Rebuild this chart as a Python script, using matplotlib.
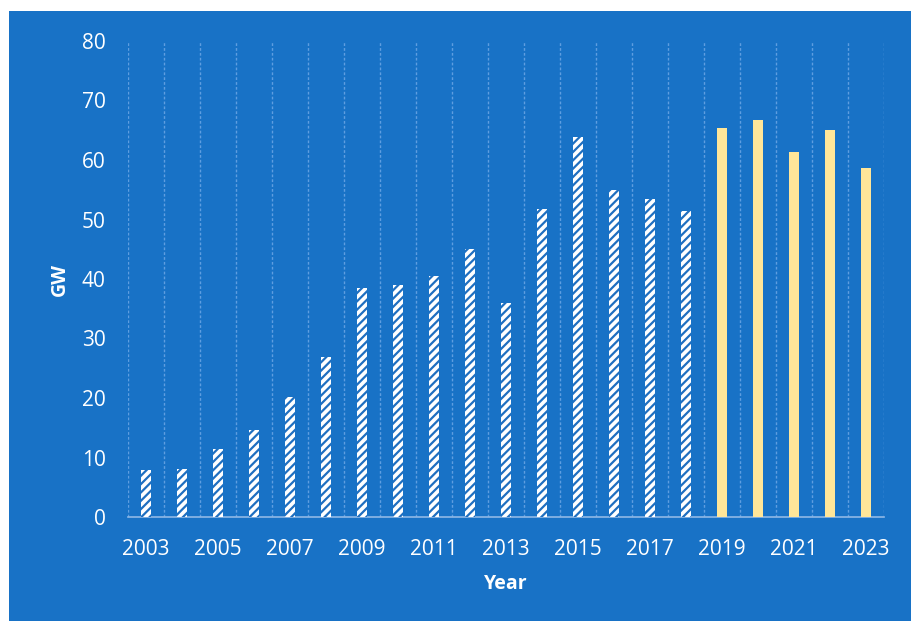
import matplotlib
matplotlib.use("Agg")
import matplotlib.pyplot as plt
from matplotlib.patches import Rectangle
import numpy as np

years = list(range(2003, 2024))
historical_years = list(range(2003, 2019))
historical_gw = [7.9, 8.1, 11.4, 14.6, 20.2, 26.9, 38.5, 39.0, 40.5, 45.0,
                 36.0, 51.8, 63.9, 55.0, 53.4, 51.4]
recent_years = list(range(2019, 2024))
recent_gw = [65.4, 66.7, 61.3, 65.0, 58.7]
tick_labels = [str(y) if (y - 2003) % 2 == 0 else "" for y in years]

BG = "#1872c6"
HATCH_BLUE = "#1f6fc0"
YELLOW = "#ffe699"
GRID = "#5f9ee0"
TEXT = "white"

plt.rcParams["font.family"] = ["Open Sans", "DejaVu Sans"]
plt.rcParams["hatch.linewidth"] = 1.6

fig = plt.figure(figsize=(9.11, 6.21), dpi=100, facecolor="white")
fig.patches.append(Rectangle((9 / 911, 0), 1 - 9 / 911, 1 - 11 / 621,
                             transform=fig.transFigure, facecolor=BG,
                             edgecolor="none", zorder=-10))

ax = fig.add_axes([128 / 911, (621 - 517) / 621, 756 / 911, 476 / 621])
ax.set_zorder(5)
ax.set_facecolor("none")

idx = {y: i for i, y in enumerate(years)}
hx = [idx[y] for y in historical_years]
rx = [idx[y] for y in recent_years]

ax.bar(hx, historical_gw, width=0.28, facecolor="white", edgecolor=HATCH_BLUE,
       hatch="////", linewidth=0, zorder=3)
ax.bar(rx, recent_gw, width=0.28, color=YELLOW, linewidth=0, zorder=3)

ax.set_xlim(-0.5, len(years) - 0.5)
ax.set_ylim(0, 80)
ax.set_yticks(np.arange(0, 81, 10))
ax.set_xticks(range(len(years)))
ax.set_xticklabels(tick_labels)

for gx in np.arange(-0.5, len(years), 1.0):
    ax.axvline(gx, color=GRID, linestyle=(0, (2, 1.5)), linewidth=1.0, zorder=1)

for s in ["top", "right", "left"]:
    ax.spines[s].set_visible(False)
ax.spines["bottom"].set_color("#8fb8e6")
ax.spines["bottom"].set_linewidth(1.2)

ax.tick_params(axis="both", length=0, colors=TEXT)
ax.tick_params(axis="y", labelsize=15, pad=16)
ax.tick_params(axis="x", labelsize=15, pad=16)

ax.set_ylabel("GW", color=TEXT, fontsize=14, fontweight="bold", labelpad=9)
ax.set_xlabel("Year", color=TEXT, fontsize=14, fontweight="bold", labelpad=10)

fig.savefig("out.png", dpi=100, facecolor=fig.get_facecolor())
